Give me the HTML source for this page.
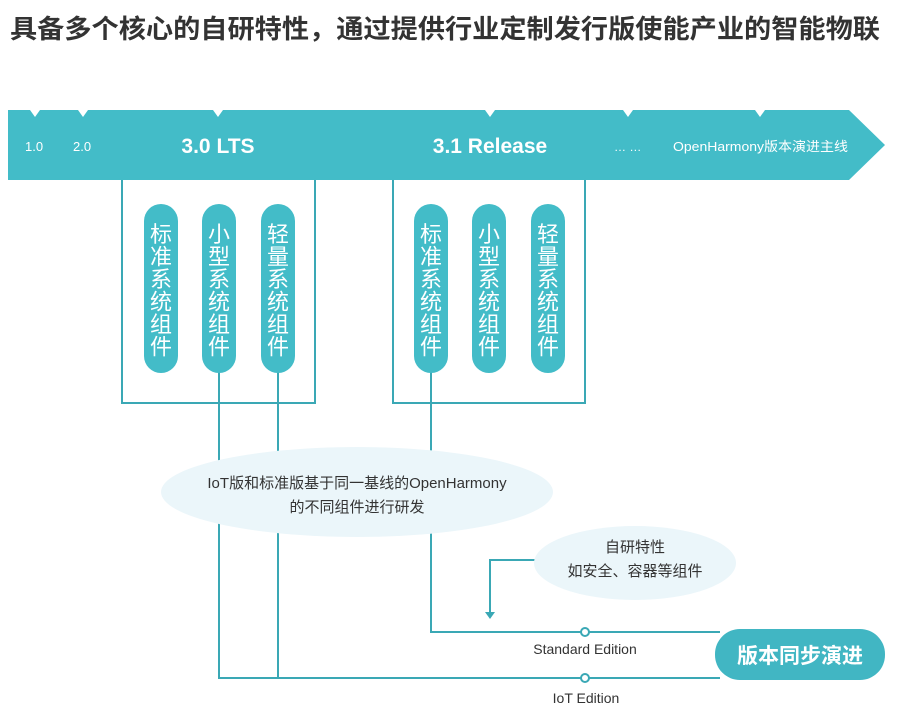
<!DOCTYPE html>
<html><head><meta charset="utf-8"><style>
body{margin:0;background:#fff;width:905px;height:712px;overflow:hidden}
svg{display:block;font-family:"Liberation Sans","Noto Sans CJK SC",sans-serif}
</style></head><body>
<svg width="905" height="712" viewBox="0 0 905 712">
<text x="10" y="38" font-size="26" font-weight="bold" fill="#333" textLength="870" lengthAdjust="spacingAndGlyphs">具备多个核心的自研特性，通过提供行业定制发行版使能产业的智能物联</text>
<polygon points="8,110 849,110 885,145 849,180 8,180" fill="#43bcc8"/>
<g fill="#fff">
<polygon points="30,110 40,110 35,117"/><polygon points="78,110 88,110 83,117"/>
<polygon points="213,110 223,110 218,117"/><polygon points="485,110 495,110 490,117"/>
<polygon points="623,110 633,110 628,117"/><polygon points="755,110 765,110 760,117"/>
</g>
<g fill="#fff">
<text x="25" y="151" font-size="13">1.0</text>
<text x="73" y="151" font-size="13">2.0</text>
<text x="218" y="153" font-size="21" font-weight="bold" text-anchor="middle">3.0 LTS</text>
<text x="490" y="153" font-size="21" font-weight="bold" text-anchor="middle">3.1 Release</text>
<text x="614" y="151" font-size="12">… …</text>
<text x="673" y="151" font-size="13" textLength="175" lengthAdjust="spacingAndGlyphs">OpenHarmony版本演进主线</text>
</g>
<g stroke="#3aa8b5" stroke-width="2" fill="none">
<polyline points="122,180 122,403 315,403 315,180"/>
<polyline points="393,180 393,403 585,403 585,180"/>
<polyline points="219,370 219,678 720,678"/>
<line x1="278" y1="370" x2="278" y2="678"/>
<polyline points="431,370 431,632 720,632"/>
<polyline points="535,560 490,560 490,613"/>
</g>
<polygon points="485,612 495,612 490,619" fill="#3aa8b5"/>
<ellipse cx="357" cy="492" rx="196" ry="45" fill="#ebf6fa"/>
<text x="357" y="488" font-size="15" fill="#333" text-anchor="middle">IoT版和标准版基于同一基线的OpenHarmony</text>
<text x="357" y="512" font-size="15" fill="#333" text-anchor="middle">的不同组件进行研发</text>
<ellipse cx="635" cy="563" rx="101" ry="37" fill="#ebf6fa"/>
<text x="635" y="552" font-size="15" fill="#333" text-anchor="middle">自研特性</text>
<text x="635" y="576" font-size="15" fill="#333" text-anchor="middle">如安全、容器等组件</text>
<g fill="#43bcc8">
<rect x="144" y="204" width="34" height="169" rx="17"/>
<rect x="202" y="204" width="34" height="169" rx="17"/>
<rect x="261" y="204" width="34" height="169" rx="17"/>
<rect x="414" y="204" width="34" height="169" rx="17"/>
<rect x="472" y="204" width="34" height="169" rx="17"/>
<rect x="531" y="204" width="34" height="169" rx="17"/>
</g>
<g fill="#fff" font-size="22" text-anchor="middle">
<text x="161" y="242"><tspan x="161">标</tspan><tspan x="161" dy="22.5">准</tspan><tspan x="161" dy="22.5">系</tspan><tspan x="161" dy="22.5">统</tspan><tspan x="161" dy="22.5">组</tspan><tspan x="161" dy="22.5">件</tspan></text>
<text x="219" y="242"><tspan x="219">小</tspan><tspan x="219" dy="22.5">型</tspan><tspan x="219" dy="22.5">系</tspan><tspan x="219" dy="22.5">统</tspan><tspan x="219" dy="22.5">组</tspan><tspan x="219" dy="22.5">件</tspan></text>
<text x="278" y="242"><tspan x="278">轻</tspan><tspan x="278" dy="22.5">量</tspan><tspan x="278" dy="22.5">系</tspan><tspan x="278" dy="22.5">统</tspan><tspan x="278" dy="22.5">组</tspan><tspan x="278" dy="22.5">件</tspan></text>
<text x="431" y="242"><tspan x="431">标</tspan><tspan x="431" dy="22.5">准</tspan><tspan x="431" dy="22.5">系</tspan><tspan x="431" dy="22.5">统</tspan><tspan x="431" dy="22.5">组</tspan><tspan x="431" dy="22.5">件</tspan></text>
<text x="489" y="242"><tspan x="489">小</tspan><tspan x="489" dy="22.5">型</tspan><tspan x="489" dy="22.5">系</tspan><tspan x="489" dy="22.5">统</tspan><tspan x="489" dy="22.5">组</tspan><tspan x="489" dy="22.5">件</tspan></text>
<text x="548" y="242"><tspan x="548">轻</tspan><tspan x="548" dy="22.5">量</tspan><tspan x="548" dy="22.5">系</tspan><tspan x="548" dy="22.5">统</tspan><tspan x="548" dy="22.5">组</tspan><tspan x="548" dy="22.5">件</tspan></text>
</g>
<g fill="#fff" stroke="#3aa8b5" stroke-width="2">
<circle cx="585" cy="632" r="4"/><circle cx="585" cy="678" r="4"/>
</g>
<text x="585" y="654" font-size="14" fill="#333" text-anchor="middle">Standard Edition</text>
<text x="586" y="703" font-size="14" fill="#333" text-anchor="middle">IoT Edition</text>
<rect x="715" y="629" width="170" height="51" rx="25" fill="#41b6c3"/>
<text x="800" y="663" font-size="21" font-weight="bold" fill="#fff" text-anchor="middle">版本同步演进</text>
</svg>
</body></html>
